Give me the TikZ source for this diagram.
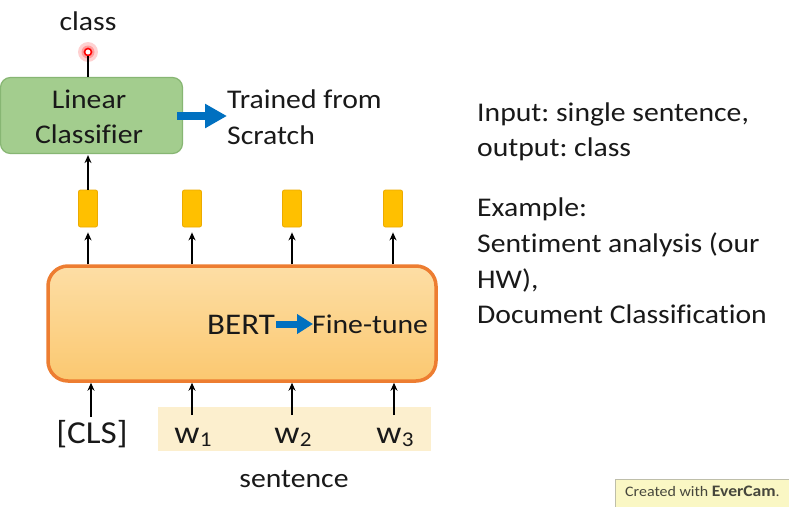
\documentclass[tikz,border=0pt]{standalone}
\usepackage{fontspec}
\setmainfont{Carlito}[FakeStretch=1.1, Ligatures=NoCommon]
\usetikzlibrary{arrows.meta}
\definecolor{gfill}{RGB}{163,205,142}
\definecolor{gdraw}{RGB}{135,182,115}
\definecolor{yfill}{RGB}{255,192,0}
\definecolor{ydraw}{RGB}{236,170,0}
\definecolor{btop}{RGB}{253,222,165}
\definecolor{bbot}{RGB}{251,200,112}
\definecolor{bdraw}{RGB}{237,125,49}
\definecolor{barrow}{RGB}{0,112,192}
\definecolor{sentbg}{RGB}{252,239,206}
\definecolor{wmfill}{RGB}{250,247,196}
\definecolor{wmdraw}{RGB}{190,190,170}
\definecolor{txtc}{RGB}{25,25,25}
\frenchspacing
\tikzset{
  txt/.style={inner sep=0pt, anchor=base, text=txtc, font=\fontsize{27}{32}\selectfont},
  txtw/.style={txt, anchor=base west},
  arr/.style={line width=1.8pt, -{Stealth[length=8pt,width=7pt]}},
  blockarrow/.style={draw=barrow, line width=8pt, -{Triangle[length=22pt,width=23pt]}},
  smallblock/.style={draw=barrow, line width=7pt, -{Triangle[length=16pt,width=19pt]}},
  greenbox/.style={draw=gdraw, line width=1.2pt, fill=gfill, rounded corners=10pt,
    minimum width=182pt, minimum height=76pt, inner sep=0pt},
  ybox/.style={draw=ydraw, line width=0.8pt, fill=yfill, rounded corners=2pt,
    minimum width=19pt, minimum height=37pt, inner sep=0pt},
  bertbox/.style={draw=bdraw, line width=3.5pt, top color=btop, bottom color=bbot,
    rounded corners=20pt, minimum width=388pt, minimum height=115pt, inner sep=0pt},
}
\begin{document}
\begin{tikzpicture}[x=1pt,y=-1pt]
\useasboundingbox (0,0) rectangle (789,506);
\fill[white] (0,0) rectangle (789,506);

% class output
\node[txt] (cls-out) at (88,30) {class};
\fill[red, opacity=0.18] (88,52) circle (10pt);
\fill[red, opacity=0.25] (88,52) circle (6.5pt);
\node[circle, draw=red, fill=white, line width=1.6pt, minimum size=7pt, inner sep=0pt] (dot) at (88,52) {};

% linear classifier
\node[greenbox] (lin) at (91.5,115.5) {};
\node[txt] (lin1) at (89,108) {Linear};
\node[txt] (lin2) at (89,143) {Classifier};
\draw[line width=1.8pt] (dot.south) -- (dot.south |- lin.north);

% trained from scratch
\node[txtw] (tr1) at (227,108) {Trained from};
\node[txtw] (tr2) at (227,144) {Scratch};
\coordinate (ba1s) at (177,116);
\coordinate (ba1e) at (227,116);
\draw[blockarrow] (ba1s) -- (ba1e);

% yellow hidden vectors
\node[ybox] (h0) at (88,208.5) {};
\node[ybox] (h1) at (192,208.5) {};
\node[ybox] (h2) at (292,208.5) {};
\node[ybox] (h3) at (393,208.5) {};
\draw[arr, shorten >=1pt] (h0.north) -- (h0.north |- lin.south);

% BERT box
\node[bertbox] (bert) at (242,323.5) {};
\foreach \h in {h0,h1,h2,h3}{
  \draw[arr, shorten >=5pt] (bert.north -| \h) -- (\h.south);
}
\node[txtw, font=\fontsize{30}{32}\selectfont] (bertlbl) at (207,334) {BERT};
\node[txtw] (ft) at (312,333) {Fine-tune};
\coordinate (ba2s) at (276,324);
\coordinate (ba2e) at (313,324);
\draw[smallblock] (ba2s) -- (ba2e);

% inputs
\node[fill=sentbg, minimum width=273pt, minimum height=44pt, inner sep=0pt] (sbg) at (294.5,429) {};
\node[txt, font=\fontsize{32}{32}\selectfont] (cls) at (92,443) {[CLS]};
\newcommand{\wsub}[1]{{\fontsize{32}{32}\selectfont w}\kern0.5pt\raisebox{-3pt}{\fontsize{21}{21}\selectfont #1}}
\node[txt] (w1) at (193,443) {\wsub{1}};
\node[txt] (w2) at (293,443) {\wsub{2}};
\node[txt] (w3) at (395,443) {\wsub{3}};
\coordinate (c0) at (91,417);
\coordinate (c1) at (192,415);
\coordinate (c2) at (292,415);
\coordinate (c3) at (394,415);
\foreach \c in {c0,c1,c2,c3}{
  \draw[arr, shorten >=0pt] (\c) -- (\c |- bert.south);
}
\node[txt] (sent) at (294,487) {sentence};

% right text
\node[txtw] (r1) at (477,121) {Input: single sentence,};
\node[txtw] (r2) at (477,156) {output: class};
\node[txtw] (r3) at (477,216.5) {Example:};
\node[txtw] (r4) at (477,252) {Sentiment analysis (our};
\node[txtw] (r5) at (477,288) {HW),};
\node[txtw] (r6) at (477,323) {Document Classification};

% watermark
\node[draw=wmdraw, fill=wmfill, line width=1pt, minimum width=176pt, minimum height=29pt, inner sep=0pt, anchor=north west] (wm) at (615,479) {};
\node[inner sep=0pt, anchor=base west, text={rgb,255:red,70;green,70;blue,60}, font=\fontsize{14.5}{14.5}\selectfont] (wmt) at (625,496) {Created with \textbf{\fontsize{16}{16}\selectfont EverCam}.};
\end{tikzpicture}
\end{document}
